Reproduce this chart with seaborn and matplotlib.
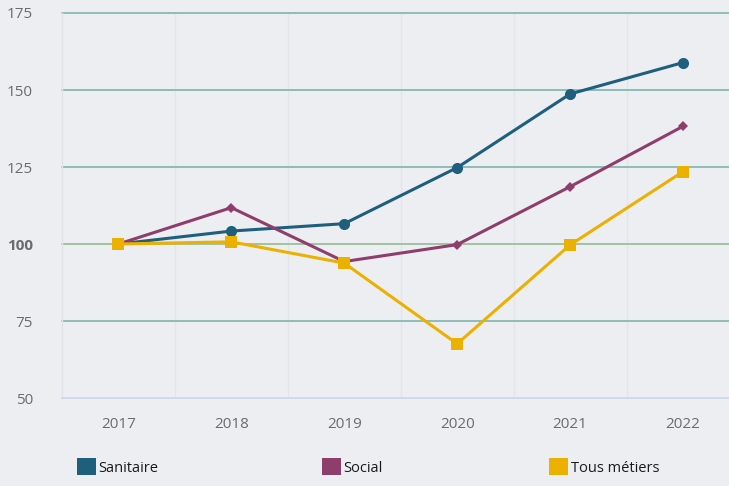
import matplotlib
matplotlib.use("Agg")
import matplotlib.pyplot as plt
import seaborn as sns
import pandas as pd
from matplotlib.patches import Patch

years = ["2017", "2018", "2019", "2020", "2021", "2022"]
sanitaire = [100, 104.2, 106.6, 124.8, 148.7, 158.9]
social = [100, 111.8, 94.3, 99.8, 118.6, 138.2]
tous = [100, 100.7, 93.8, 67.6, 99.7, 123.5]
series_names = ["Sanitaire", "Social", "Tous métiers"]
yticks = [50, 75, 100, 125, 150, 175]

colors = {"Sanitaire": "#1e5f7e", "Social": "#8f3d6c", "Tous métiers": "#ebb000"}
markers = {"Sanitaire": "o", "Social": "D", "Tous métiers": "s"}
msize = {"Sanitaire": 8, "Social": 5.5, "Tous métiers": 8.5}

rows = []
for name, vals in zip(series_names, [sanitaire, social, tous]):
    for i, v in enumerate(vals):
        rows.append({"x": i, "value": v, "serie": name})
df = pd.DataFrame(rows)

sns.set_theme(style="white")
plt.rcParams["font.family"] = ["Open Sans", "DejaVu Sans"]

bg = "#eceef1"
fig = plt.figure(figsize=(7.29, 4.86), dpi=100, facecolor=bg)
ax = fig.add_axes([62 / 729, 1 - 398 / 486, 1 - 62 / 729, (398 - 13) / 486])
ax.set_facecolor(bg)

for yv in yticks[1:]:
    ax.axhline(yv, color="#9cc09c" if yv == 100 else "#86b9b3", lw=1.3, zorder=1,
               clip_on=False)
for xv in [0.5, 1.5, 2.5, 3.5, 4.5]:
    ax.axvline(xv, color="#e3e5ea", lw=1, zorder=0)

for name in series_names:
    sub = df[df["serie"] == name]
    sns.lineplot(data=sub, x="x", y="value", color=colors[name], marker=markers[name],
                 markersize=msize[name], markeredgewidth=0, lw=2.2, ax=ax, zorder=3,
                 legend=False)

ax.set_xlim(-0.5, (729 - 119) / 112.8)
ax.set_ylim(50, 175)
ax.set_xticks(range(len(years)))
ax.set_xticklabels(years)
ax.set_yticks(yticks)
ax.set_yticklabels([str(t) for t in yticks])
for lab in ax.get_yticklabels():
    if lab.get_text() == "100":
        lab.set_fontweight("bold")
ax.tick_params(axis="both", length=0, labelsize=11, colors="#6b6b6b")
ax.tick_params(axis="x", pad=14)
ax.tick_params(axis="y", pad=21)
ax.set_xlabel("")
ax.set_ylabel("")
for s in ["top", "right"]:
    ax.spines[s].set_visible(False)
ax.spines["left"].set_color("#e0e3ec")
ax.spines["left"].set_linewidth(1)
ax.spines["bottom"].set_color("#ccd6eb")
ax.spines["bottom"].set_linewidth(1.2)

positions = [(76, 457), (321, 457), (548, 457)]
for name, (px, py) in zip(series_names, positions):
    fig.legend(handles=[Patch(facecolor=colors[name], edgecolor="none", label=name)],
               loc="upper left", bbox_to_anchor=(px / 729, 1 - py / 486),
               frameon=False, fontsize=10.5, handlelength=1.3, handleheight=1.4,
               handletextpad=0.15, borderaxespad=0, borderpad=0.1,
               labelcolor="#1a1a1a")

fig.savefig("out.png", dpi=100, facecolor=bg)
